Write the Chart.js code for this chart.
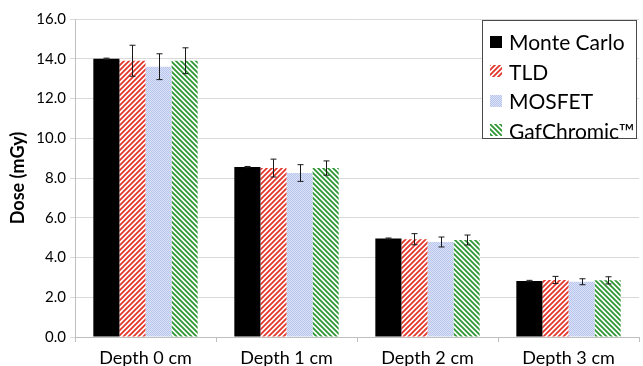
<!DOCTYPE html>
<html>
<head>
<meta charset="utf-8">
<script src="https://cdn.jsdelivr.net/npm/chart.js@4/dist/chart.umd.min.js"></script>
<style>
  html, body { margin: 0; padding: 0; background: #fff; }
  #wrap { position: relative; width: 643px; height: 366px; }
  #legend {
    position: absolute; left: 482px; top: 20px; width: 155px; height: 119px;
    border: 1px solid #4a4a4a; background: #fff; box-sizing: border-box;
    font-family: Lato, "Open Sans", sans-serif; font-size: 21px; color: #000;
    padding-top: 6px;
  }
  .item { display: flex; align-items: center; height: 29.5px; padding-left: 7px; }
  .item canvas { width: 12px; height: 12px; margin-right: 7px; }
</style>
</head>
<body>
<div id="wrap">
  <canvas id="chart" width="643" height="366"></canvas>
  <div id="legend"></div>
</div>
<script>
// Data
const categories = ['Depth 0 cm', 'Depth 1 cm', 'Depth 2 cm', 'Depth 3 cm'];
const seriesNames = ['Monte Carlo', 'TLD', 'MOSFET', 'GafChromic™'];
const monteCarlo = [14.0, 8.55, 4.95, 2.82];
const tld = [13.9, 8.5, 4.92, 2.87];
const mosfet = [13.6, 8.25, 4.78, 2.78];
const gafchromic = [13.9, 8.5, 4.88, 2.85];
const monteCarloErr = [0.03, 0.03, 0.03, 0.03];
const tldErr = [0.78, 0.45, 0.28, 0.18];
const mosfetErr = [0.65, 0.42, 0.25, 0.15];
const gafchromicErr = [0.65, 0.36, 0.25, 0.18];

const FONT = 'Lato, "Open Sans", sans-serif';

// Fill patterns
function stripePattern(color, upward) {
  const s = 5;
  const c = document.createElement('canvas');
  c.width = s; c.height = s;
  const g = c.getContext('2d');
  g.fillStyle = '#fff';
  g.fillRect(0, 0, s, s);
  g.strokeStyle = color;
  g.lineWidth = 1.8;
  g.beginPath();
  if (upward) {
    g.moveTo(-1, s + 1); g.lineTo(s + 1, -1);
    g.moveTo(-1, 1); g.lineTo(1, -1);
    g.moveTo(s - 1, s + 1); g.lineTo(s + 1, s - 1);
  } else {
    g.moveTo(-1, -1); g.lineTo(s + 1, s + 1);
    g.moveTo(-1, s - 1); g.lineTo(1, s + 1);
    g.moveTo(s - 1, -1); g.lineTo(s + 1, 1);
  }
  g.stroke();
  return c;
}

function dotPattern() {
  const c = document.createElement('canvas');
  c.width = 2; c.height = 2;
  const g = c.getContext('2d');
  g.fillStyle = '#dce3f7';
  g.fillRect(0, 0, 2, 2);
  g.fillStyle = '#b6c4ee';
  g.fillRect(0, 0, 1, 1);
  g.fillRect(1, 1, 1, 1);
  return c;
}

const ctx = document.getElementById('chart').getContext('2d');
const tiles = [null, stripePattern('#e2372a', true), dotPattern(), stripePattern('#2f9634', false)];
const fills = ['#000000'].concat(tiles.slice(1).map(t => ctx.createPattern(t, 'repeat')));
const values = [monteCarlo, tld, mosfet, gafchromic];
const errors = [monteCarloErr, tldErr, mosfetErr, gafchromicErr];

// Error bars drawn through the y scale
const errorBarPlugin = {
  id: 'errorBars',
  afterDatasetsDraw(chart) {
    const c = chart.ctx;
    const y = chart.scales.y;
    c.save();
    c.strokeStyle = '#1a1a1a';
    c.lineWidth = 1;
    chart.data.datasets.forEach((ds, di) => {
      const meta = chart.getDatasetMeta(di);
      meta.data.forEach((bar, i) => {
        const v = ds.data[i];
        const e = errors[di][i];
        const x = Math.round(bar.x) + 0.5;
        const top = y.getPixelForValue(v + e);
        const bot = y.getPixelForValue(v - e);
        c.beginPath();
        c.moveTo(x, top); c.lineTo(x, bot);
        c.moveTo(x - 3, top); c.lineTo(x + 3, top);
        c.moveTo(x - 3, bot); c.lineTo(x + 3, bot);
        c.stroke();
      });
    });
    c.restore();
  }
};

new Chart(ctx, {
  type: 'bar',
  data: {
    labels: categories,
    datasets: seriesNames.map((name, i) => ({
      label: name,
      data: values[i],
      backgroundColor: fills[i],
      borderWidth: 0,
      categoryPercentage: 0.74,
      barPercentage: 1.0
    }))
  },
  options: {
    responsive: false,
    animation: false,
    layout: { padding: { top: 19, right: 4, left: 0, bottom: 0 } },
    plugins: {
      legend: { display: false },
      tooltip: { enabled: false }
    },
    scales: {
      x: {
        afterFit(scale) { scale.height = 29; },
        grid: {
          offset: true,
          drawOnChartArea: false,
          tickLength: 5,
          color: '#bfbfbf'
        },
        border: { color: '#bfbfbf' },
        ticks: {
          color: '#000',
          font: { family: FONT, size: 18 },
          padding: 5
        }
      },
      y: {
        min: 0,
        max: 16,
        afterFit(scale) { scale.width = 75; },
        grid: { color: '#d9d9d9', tickLength: 5 },
        border: { color: '#bfbfbf' },
        ticks: {
          stepSize: 2,
          color: '#000',
          font: { family: FONT, size: 15 },
          padding: 4,
          callback: v => v.toFixed(1)
        },
        title: {
          display: true,
          text: 'Dose (mGy)',
          color: '#000',
          font: { family: FONT, size: 18, weight: 'bold' },
          padding: { top: 7, bottom: 4 }
        }
      }
    }
  },
  plugins: [errorBarPlugin]
});

// Legend inside the plot, as in the reference
const legend = document.getElementById('legend');
seriesNames.forEach((name, i) => {
  const item = document.createElement('div');
  item.className = 'item';
  const sw = document.createElement('canvas');
  sw.width = 12; sw.height = 12;
  const g = sw.getContext('2d');
  g.fillStyle = i === 0 ? '#000' : g.createPattern(tiles[i], 'repeat');
  g.fillRect(0, 0, 12, 12);
  item.appendChild(sw);
  item.appendChild(document.createTextNode(name));
  legend.appendChild(item);
});
</script>
</body>
</html>
